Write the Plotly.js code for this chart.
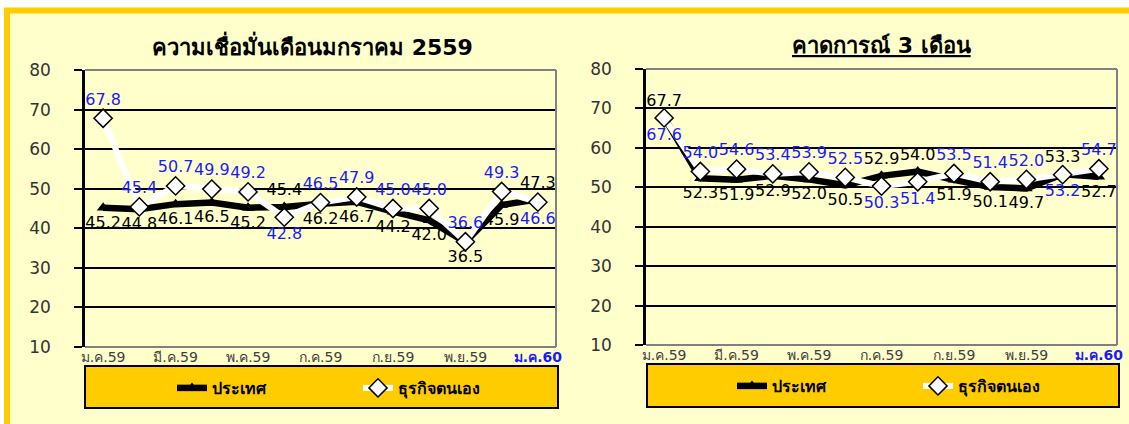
<!DOCTYPE html>
<html>
<head>
<meta charset="utf-8">
<script src="https://cdn.plot.ly/plotly-3.0.1.min.js"></script>
<style>html,body{margin:0;padding:0;background:#fff;}#chart{width:1129px;height:424px;}</style>
</head>
<body>
<div id="chart"></div>
<script>
// ---- data ----
const months = ["ม.ค.59","ก.พ.59","มี.ค.59","เม.ย.59","พ.ค.59","มิ.ย.59","ก.ค.59","ส.ค.59","ก.ย.59","ต.ค.59","พ.ย.59","ธ.ค.59","ม.ค.60"];
const tickMonths = ["ม.ค.59","มี.ค.59","พ.ค.59","ก.ค.59","ก.ย.59","พ.ย.59","ม.ค.60"];
const seriesNames = ["ประเทศ","ธุรกิจตนเอง"];
const titleLeft = "ความเชื่อมั่นเดือนมกราคม 2559";
const titleRight = "คาดการณ์ 3 เดือน";
// current confidence (left)
const nowCountry  = [45.2,44.8,46.1,46.5,45.2,45.4,46.2,46.7,44.2,42.0,36.5,45.9,47.3];
const nowBusiness = [67.8,45.4,50.7,49.9,49.2,42.8,46.5,47.9,45.0,45.0,36.6,49.3,46.6];
// 3-month expectation (right)
const expCountry  = [67.7,52.3,51.9,52.9,52.0,50.5,52.9,54.0,51.9,50.1,49.7,53.3,52.7];
const expBusiness = [67.6,54.0,54.6,53.4,53.9,52.5,50.3,51.4,53.5,51.4,52.0,53.2,54.7];

// ---- label placement (style) ----
const T = "top center", B = "bottom center";
const posNowCountry  = [B,B,B,B,B,T,B,B,B,B,B,B,T];
const posNowBusiness = [T,T,T,T,T,B,T,T,T,T,T,T,B];
const posExpCountry  = [T,B,B,B,B,B,T,T,B,B,B,T,B];
const posExpBusiness = [B,T,T,T,T,T,B,B,T,T,T,B,T];

const W = 1129, H = 424;
const px = v => v / W;
const py = v => 1 - v / H;

const FONT = "Tahoma, 'DejaVu Sans', 'Noto Sans', sans-serif";
const LBL = 16;

function countryTrace(y, pos, xa, ya, lg) {
  return {
    x: months, y: y, xaxis: xa, yaxis: ya, name: seriesNames[0], legend: lg, showlegend: true,
    type: "scatter", mode: "lines+markers+text",
    line: {color: "#000000", width: 6.5},
    marker: {symbol: "triangle-up", size: 11, color: "#000000"},
    text: y.map(v => v.toFixed(1)), textposition: pos,
    textfont: {family: FONT, size: LBL, color: "#000000"},
    cliponaxis: false, hoverinfo: "skip"
  };
}
function businessTrace(y, pos, xa, ya, lg) {
  return {
    x: months, y: y, xaxis: xa, yaxis: ya, name: seriesNames[1], legend: lg, showlegend: true,
    type: "scatter", mode: "lines+markers+text",
    line: {color: "#FFFFFF", width: 6},
    marker: {symbol: "diamond", size: 14, color: "#FFFFFF", line: {color: "#000000", width: 1.5}},
    text: y.map(v => v.toFixed(1)), textposition: pos,
    textfont: {family: FONT, size: LBL, color: "#1A1AFF"},
    cliponaxis: false, hoverinfo: "skip"
  };
}

const data = [
  countryTrace(nowCountry, posNowCountry, "x", "y", "legend2"),
  businessTrace(nowBusiness, posNowBusiness, "x", "y", "legend3"),
  countryTrace(expCountry, posExpCountry, "x2", "y2", "legend4"),
  businessTrace(expBusiness, posExpBusiness, "x2", "y2", "legend5")
];

const tickText = tickMonths.map((t, i) => i === tickMonths.length - 1 ?
  "<b><span style='color:#1A1AFF'>" + t + "</span></b>" : t);

function xax(domain, anchor) {
  return {
    domain: domain, anchor: anchor, type: "category", categoryorder: "array", categoryarray: months,
    range: [-0.5, months.length - 0.5], tickmode: "array", tickvals: tickMonths, ticktext: tickText,
    showgrid: false, ticks: "", showline: false, zeroline: false,
    tickfont: {family: FONT, size: 14, color: "#404040"}, fixedrange: true
  };
}
function yax(domain, anchor) {
  return {
    domain: domain, anchor: anchor, range: [10, 80], dtick: 10, tick0: 10,
    showgrid: true, gridcolor: "#000000", gridwidth: 1.6,
    showline: true, linecolor: "#000000", linewidth: 2.5,
    ticks: "outside", ticklen: 8, tickcolor: "#000000", tickwidth: 2,
    tickfont: {family: FONT, size: 17, color: "#333333"}, ticklabelstandoff: 20,
    zeroline: false, fixedrange: true
  };
}

const legendBase = (xp, yp) => ({
  x: px(xp), y: py(yp), xanchor: "left", yanchor: "middle", orientation: "h",
  bgcolor: "rgba(0,0,0,0)", borderwidth: 0,
  font: {family: FONT, size: 16, color: "#000000", weight: "bold"}
});

const frameShapes = [
  {type: "rect", xref: "paper", yref: "paper", x0: px(7), x1: 1.05, y0: py(10.5), y1: -0.05,
   fillcolor: "#FFFFCC", line: {color: "#FFCC00", width: 6}, layer: "below"},
  {type: "rect", xref: "paper", yref: "paper", x0: px(85), x1: px(558), y0: py(366), y1: py(408),
   fillcolor: "#FFCC00", line: {color: "#000000", width: 2}, layer: "below"},
  {type: "rect", xref: "paper", yref: "paper", x0: px(647), x1: px(1119), y0: py(364), y1: py(407),
   fillcolor: "#FFCC00", line: {color: "#000000", width: 2}, layer: "below"}
];
function borderShapes(x0, x1, y0, y1) {
  const base = {type: "line", xref: "paper", yref: "paper", line: {color: "#808080", width: 2}, layer: "above"};
  return [
    Object.assign({}, base, {x0: px(x0), x1: px(x1), y0: py(y0), y1: py(y0)}),
    Object.assign({}, base, {x0: px(x1), x1: px(x1), y0: py(y0), y1: py(y1)}),
    Object.assign({}, base, {x0: px(x0), x1: px(x1), y0: py(y1), y1: py(y1)})
  ];
}

const layout = {
  width: W, height: H, margin: {l: 0, r: 0, t: 0, b: 0},
  paper_bgcolor: "#FFFFFF", plot_bgcolor: "#FFCC00",
  font: {family: FONT},
  hovermode: false,
  showlegend: true,
  xaxis: xax([px(85), px(556)], "y"),
  yaxis: yax([py(347), py(70)], "x"),
  xaxis2: xax([px(646), px(1117)], "y2"),
  yaxis2: yax([py(345), py(69)], "x2"),
  legend2: legendBase(172, 388),
  legend3: legendBase(358, 388),
  legend4: legendBase(732, 386),
  legend5: legendBase(918, 386),
  shapes: frameShapes.concat(borderShapes(85, 556, 70, 347), borderShapes(646, 1117, 69, 345)),
  annotations: [
    {xref: "paper", yref: "paper", x: px(312), y: py(45), xanchor: "center", yanchor: "middle",
     text: "<b>" + titleLeft + "</b>", showarrow: false, font: {family: FONT, size: 22, color: "#000000"}},
    {xref: "paper", yref: "paper", x: px(881), y: py(45), xanchor: "center", yanchor: "middle",
     text: "<b><u>" + titleRight + "</u></b>", showarrow: false, font: {family: FONT, size: 22, color: "#000000"}}
  ]
};

Plotly.newPlot("chart", data, layout, {displayModeBar: false});
</script>
</body>
</html>
